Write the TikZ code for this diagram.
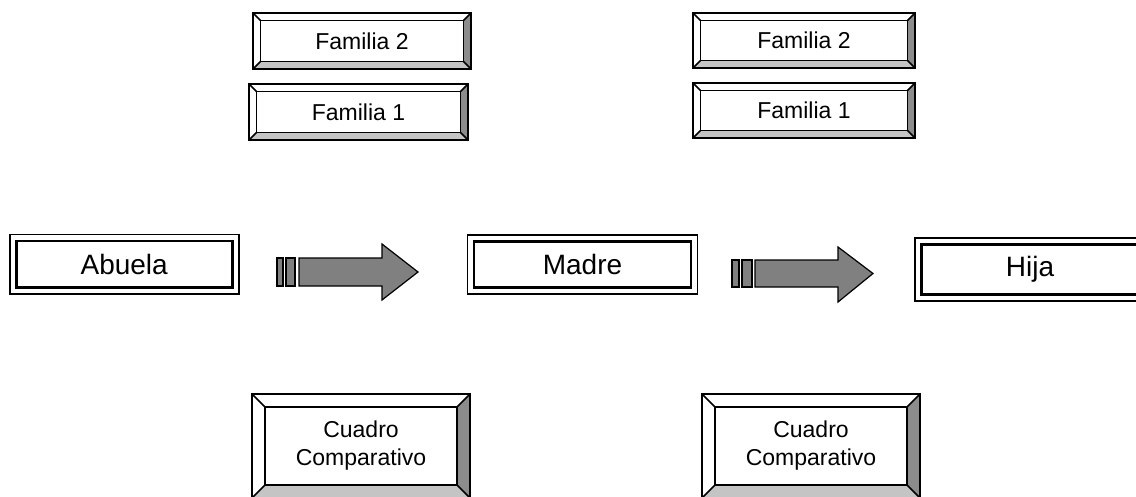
\documentclass[tikz,border=0pt]{standalone}
\usepackage{fontspec}
\setmainfont{Liberation Sans}
\definecolor{bevdark}{HTML}{8C8C8C}
\definecolor{bevlight}{HTML}{C4C4C4}
\definecolor{arrowgray}{HTML}{808080}
\tikzset{
  outline/.style={draw=black,line width=1.7pt,line join=miter},
  famtext/.style={font=\fontsize{23}{28}\selectfont, inner sep=0pt},
  bigtext/.style={font=\fontsize{28}{34}\selectfont, inner sep=0pt},
  cuadtext/.style={font=\fontsize{23}{28}\selectfont, align=center, inner sep=0pt},
  blockarrow/.style={fill=arrowgray, draw=black, line width=1.2pt, line join=miter},
}
% name, x1, y1, x2, y2, bevel, style, text
\newcommand\bevelbox[8]{%
 \fill[white] (#2,#3) rectangle (#4,#5);
 \fill[bevdark] (#4,#3) -- ({#4-#6},{#3+#6}) -- ({#4-#6},{#5-#6}) -- (#4,#5) -- cycle;
 \fill[bevlight] (#2,#5) -- ({#2+#6},{#5-#6}) -- ({#4-#6},{#5-#6}) -- (#4,#5) -- cycle;
 \draw[outline] (#2,#3) rectangle (#4,#5);
 \draw[outline] ({#2+#6},{#3+#6}) rectangle ({#4-#6},{#5-#6});
 \draw[outline] (#2,#3) -- ({#2+#6},{#3+#6}) (#4,#3) -- ({#4-#6},{#3+#6})
   (#2,#5) -- ({#2+#6},{#5-#6}) (#4,#5) -- ({#4-#6},{#5-#6});
 \node[#7] (#1) at ({(#2+#4)/2},{(#3+#5)/2}) {#8};
}
% name, x1, y1, x2, y2, text
\newcommand\dblbox[6]{%
 \draw[line width=1.7pt] (#2,#3) rectangle (#4,#5);
 \draw[line width=2.8pt] ({#2+6.5},{#3+6.5}) rectangle ({#4-6.5},{#5-6.5});
 \node[bigtext] (#1) at ({(#2+#4)/2},{(#3+#5)/2}) {#6};
}
\begin{document}
\begin{tikzpicture}[x=1pt,y=-1pt]
\useasboundingbox (0,0) rectangle (1136,496);
\clip (0,0) rectangle (1136,496);
% top family boxes
\bevelbox{famAtwo}{253}{13}{471}{69}{7.5}{famtext}{Familia 2}
\bevelbox{famAone}{249}{84}{468}{140}{7.5}{famtext}{Familia 1}
\bevelbox{famBtwo}{693}{13}{915}{68}{7.5}{famtext}{Familia 2}
\bevelbox{famBone}{693}{83}{915}{138}{7.5}{famtext}{Familia 1}
% main row
\dblbox{abuela}{9.7}{234.5}{238.7}{294}{Abuela}
\dblbox{madre}{467.5}{235}{697.5}{294.2}{Madre}
\dblbox{hija}{915}{238}{1145}{301}{Hija}
% block arrows
\draw[blockarrow] (277,258) rectangle (283,286);
\draw[blockarrow] (286,258) rectangle (295,286);
\draw[blockarrow] (299,258) -- (382,258) -- (382,244) -- (418,272) -- (382,300) -- (382,286) -- (299,286) -- cycle;
\draw[blockarrow] (732,260) rectangle (739,287);
\draw[blockarrow] (742,260) rectangle (752,287);
\draw[blockarrow] (755,260) -- (838,260) -- (838,247) -- (873,273.5) -- (838,302) -- (838,287) -- (755,287) -- cycle;
% bottom boxes
\bevelbox{cuadA}{252}{394}{470}{498}{13}{cuadtext}{Cuadro\\Comparativo}
\bevelbox{cuadB}{702}{394}{920}{498}{13}{cuadtext}{Cuadro\\Comparativo}
\end{tikzpicture}
\end{document}
